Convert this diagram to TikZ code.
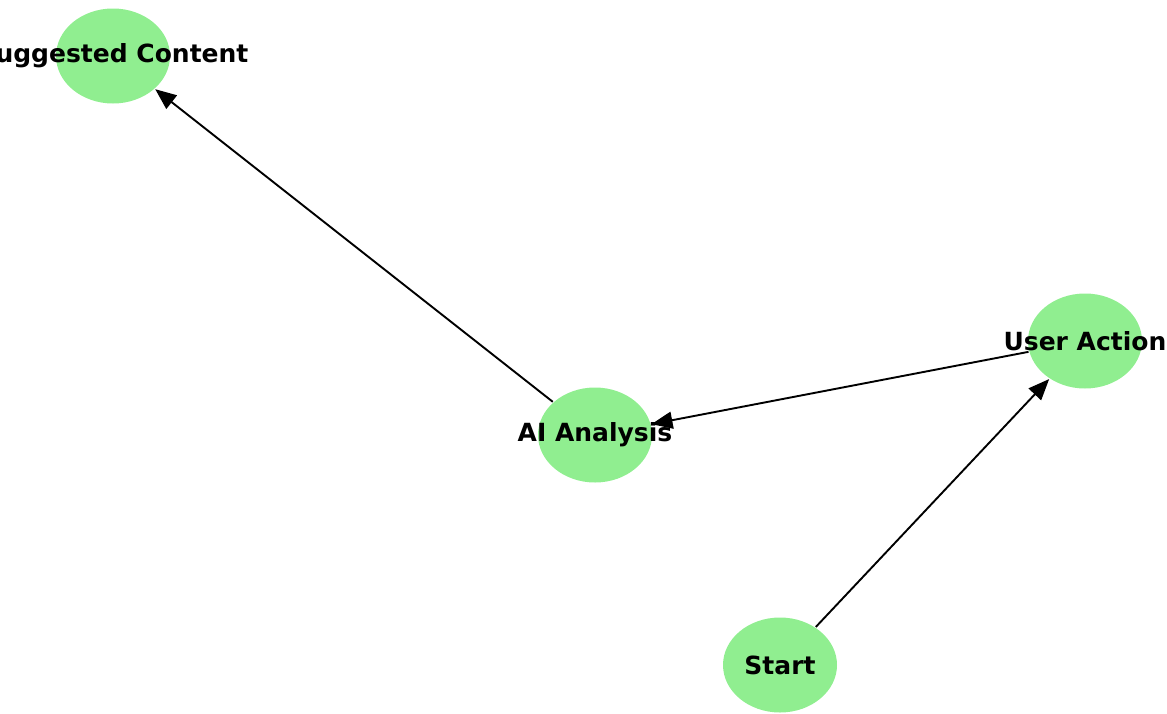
\documentclass[tikz,border=0pt]{standalone}
\usepackage{fontspec}
\setmainfont{DejaVu Sans}
\usetikzlibrary{shapes.geometric,arrows.meta}
\definecolor{nodegreen}{RGB}{144,238,144}

\begin{document}
\begin{tikzpicture}[x=1pt,y=-1pt,->,>={Triangle[length=21pt,width=17pt]},line width=1.9pt]
    \tikzstyle{step node}=[ellipse,fill=nodegreen,minimum width=114pt,minimum height=95pt,inner sep=0pt]
    \tikzstyle{step text}=[font=\fontsize{25}{29}\selectfont\bfseries]

    \useasboundingbox (0,0) rectangle (1167,713);
    \clip (0,0) rectangle (1167,713);

    %%% DRAW THE NODES
    \node[step node,label={[step text]center:Suggested Content}] (content) at (113,56) {};
    \node[step node,label={[step text]center:User Action}] (action) at (1085,341) {};
    \node[step node,label={[step text]center:AI Analysis}] (analysis) at (595,435) {};
    \node[step node,label={[step text]center:Start}] (start) at (780,665) {};

    %%% DRAW THE PATHS
    \path (start) edge (action);
    \path (action) edge (analysis);
    \path (analysis) edge (content);
\end{tikzpicture}
\end{document}
